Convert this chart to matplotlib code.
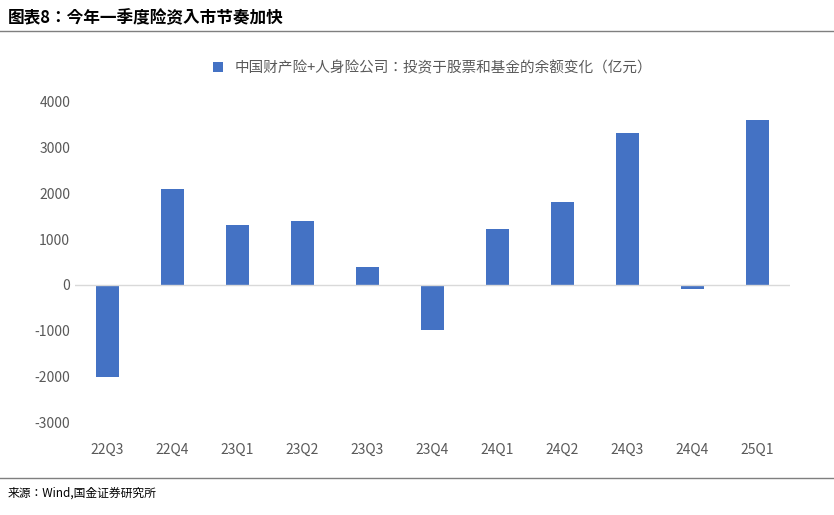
import matplotlib.pyplot as plt
import matplotlib.lines as mlines
from matplotlib import font_manager

# pick whichever CJK family matplotlib actually knows
names = {f.name for f in font_manager.fontManager.ttflist}
cjk = [n for n in ['Noto Sans CJK SC', 'Noto Sans CJK JP', 'Noto Sans CJK TC',
                   'Noto Sans CJK KR', 'Noto Sans SC', 'Noto Sans CJK'] if n in names]
if not cjk:
    cjk = sorted(n for n in names if 'CJK' in n)
plt.rcParams['font.family'] = cjk + ['DejaVu Sans']
plt.rcParams['axes.unicode_minus'] = False

quarters = ['22Q3', '22Q4', '23Q1', '23Q2', '23Q3', '23Q4', '24Q1', '24Q2', '24Q3', '24Q4', '25Q1']
values = [-2000, 2080, 1300, 1390, 400, -970, 1220, 1800, 3310, -90, 3600]
yticks = [-3000, -2000, -1000, 0, 1000, 2000, 3000, 4000]

W, H = 834, 515
fig = plt.figure(figsize=(W / 100, H / 100), dpi=100)
ax = fig.add_axes([75 / W, 1 - 432 / H, 715 / W, (432 - 92) / H])

bar_color = '#4472c4'
ax.bar(quarters, values, width=0.34, color=bar_color, label='中国财产险+人身险公司：投资于股票和基金的余额变化（亿元）')
ax.set_ylim(-3200, 4200)
ax.set_yticks(yticks)
ax.set_xlim(-0.5, len(quarters) - 0.5)
ax.axhline(0, color='#d9d9d9', lw=1)
for s in ax.spines.values():
    s.set_visible(False)
ax.tick_params(length=0, labelsize=10, colors='#595959')
ax.tick_params(axis='x', pad=8)
ax.legend(loc='upper center', bbox_to_anchor=(0.5, 1.13), frameon=False,
          fontsize=10.5, labelcolor='#595959', handlelength=0.7, handleheight=0.7)

fig.text(8 / W, 1 - 18 / H, '图表8：今年一季度险资入市节奏加快', fontsize=12,
         fontweight='bold', style='italic', va='center')
fig.text(8 / W, 1 - 493 / H, '来源：Wind,国金证券研究所', fontsize=8.5, va='center')
fig.add_artist(mlines.Line2D([0, 1], [1 - 31 / H] * 2, color='#7f7f7f', lw=1))
fig.add_artist(mlines.Line2D([0, 1], [1 - 478 / H] * 2, color='#7f7f7f', lw=1))

fig.savefig('out.png', dpi=100)
